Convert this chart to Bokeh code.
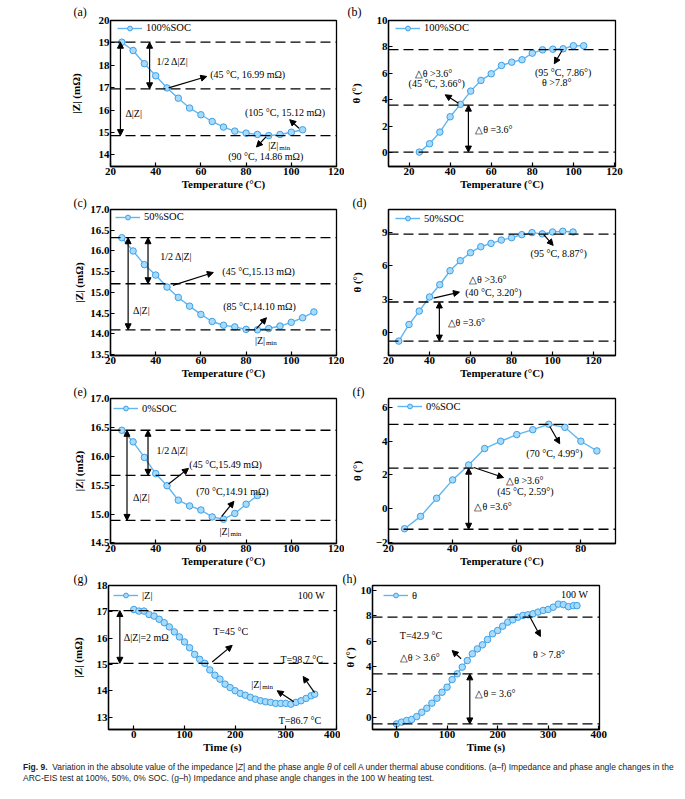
from bokeh.plotting import figure
from bokeh.models import (Range1d, FixedTicker, Span, Arrow, NormalHead, Label,
                          Legend, LegendItem, Div, NumeralTickFormatter)
from bokeh.layouts import row, column
from bokeh.embed import file_html
from bokeh.resources import INLINE

# ---------------- data ----------------
temp_100 = [25, 30, 35, 40, 45, 50, 55, 60, 65, 70, 75, 80, 85, 90, 95, 100, 105]
z_100 = [19.03, 18.66, 18.07, 17.53, 16.99, 16.53, 16.09, 15.79, 15.49, 15.24, 15.06,
         14.97, 14.91, 14.86, 14.91, 15.01, 15.12]
theta_100 = [0.05, 0.68, 1.56, 2.72, 3.66, 4.66, 5.47, 5.97, 6.60, 6.85, 7.03, 7.53,
             7.78, 7.83, 7.86, 8.09, 8.09]

temp_50 = [25, 30, 35, 40, 45, 50, 55, 60, 65, 70, 75, 80, 85, 90, 95, 100, 105, 110]
z_50 = [16.32, 16.00, 15.67, 15.42, 15.13, 14.88, 14.67, 14.47, 14.30, 14.21, 14.17,
        14.11, 14.10, 14.13, 14.19, 14.28, 14.39, 14.53]
theta_50 = [-0.78, 0.72, 1.93, 3.20, 4.31, 5.57, 6.48, 7.20, 7.74, 8.04, 8.34, 8.55,
            8.83, 9.01, 8.90, 9.07, 9.13, 9.07]

temp_0 = [25, 30, 35, 40, 45, 50, 55, 60, 65, 70, 75, 80, 85]
z_0 = [16.45, 16.25, 15.98, 15.70, 15.49, 15.24, 15.14, 15.07, 14.95, 14.91, 15.01,
       15.17, 15.32]
theta_0 = [-1.17, -0.44, 0.63, 1.71, 2.59, 3.56, 3.99, 4.38, 4.67, 4.99, 4.81, 3.99, 3.42]

time_s = [0, 10, 20, 30, 40, 50, 60, 70, 80, 90, 100, 110, 120, 130, 140, 150, 160, 170,
          180, 190, 200, 210, 220, 230, 240, 250, 260, 270, 280, 290, 300, 310, 320, 330,
          340, 350, 357]
z_heat = [17.09, 17.03, 17.03, 16.90, 16.84, 16.72, 16.59, 16.43, 16.24, 16.05, 15.86,
          15.64, 15.39, 15.20, 15.05, 14.80, 14.60, 14.45, 14.26, 14.13, 14.01, 13.91,
          13.84, 13.76, 13.69, 13.63, 13.59, 13.57, 13.53, 13.53, 13.53, 13.50, 13.57,
          13.63, 13.72, 13.82, 13.88]
theta_heat = [-0.53, -0.39, -0.26, -0.18, 0.05, 0.39, 0.71, 1.11, 1.50, 1.97, 2.37, 2.97,
              3.42, 3.95, 4.47, 5.00, 5.39, 5.71, 6.13, 6.58, 6.84, 7.18, 7.50, 7.68,
              7.89, 8.03, 8.08, 8.16, 8.29, 8.42, 8.50, 8.68, 8.92, 8.88, 8.72, 8.80, 8.80]

temp_ticks = [20, 40, 60, 80, 100, 120]
temp_ticks_f = [20, 40, 60, 80]
time_ticks = [0, 100, 200, 300, 400]

# reference levels (dashed lines)
lev_a = [19.03, 16.95, 14.86]
lev_b = [0.05, 3.6, 7.8]
lev_c = [16.32, 15.21, 14.10]
lev_d = [-0.78, 2.75, 8.87]
lev_e = [16.45, 15.67, 14.89]
lev_f = [-1.2, 2.4, 4.99]
lev_g = [17.05, 15.05]
lev_h = [-0.53, 3.42, 7.9]

# ---------------- annotations (positions in data units) ----------------
ANN = {
    "a": dict(
        darrows=[(24.4, 19.03, 24.4, 14.86), (37.3, 19.03, 37.3, 16.95)],
        arrows=[(45.7, 16.99, 62.6, 17.50), (103.4, 15.19, 99.3, 15.57),
                (88.7, 14.79, 84.6, 14.35)],
        labels=[(26.6, 15.83, "Δ|Z|", "left"), (40.3, 18.17, "1/2 Δ|Z|", "left"),
                (64.1, 17.57, "(45 °C, 16.99 mΩ)", "left"),
                (79.5, 15.91, "(105 °C, 15.12 mΩ)", "left"),
                (72.1, 13.93, "(90 °C, 14.86 mΩ)", "left")],
        zmin=(89.8, 14.42)),
    "b": dict(
        darrows=[(48.9, 0.05, 48.9, 3.6)],
        arrows=[(44.1, 3.75, 37.6, 4.38), (94.5, 7.73, 90.7, 6.73)],
        labels=[(52.2, 1.74, "△θ =3.6°", "left"), (31.9, 6.02, "△θ >3.6°", "center"),
                (33.5, 5.21, "(45 °C, 3.66°)", "center"),
                (95.0, 6.05, "(95 °C, 7.86°)", "center"),
                (91.9, 5.34, "θ >7.8°", "center")],
        zmin=None),
    "c": dict(
        darrows=[(27.8, 16.32, 27.8, 14.10), (36.6, 16.32, 36.6, 15.21)],
        arrows=[(47.6, 15.17, 65.5, 15.48), (84.6, 14.13, 89.0, 14.39)],
        labels=[(30.0, 14.57, "Δ|Z|", "left"), (42.0, 15.86, "1/2 Δ|Z|", "left"),
                (69.5, 15.51, "(45 °C,15.13 mΩ)", "left"),
                (69.9, 14.65, "(85 °C,14.10 mΩ)", "left")],
        zmin=(83.9, 13.85)),
    "d": dict(
        darrows=[(44.8, -0.78, 44.8, 2.75)],
        arrows=[(42.0, 3.10, 54.6, 3.64), (95.7, 8.83, 100.3, 7.86)],
        labels=[(48.8, 0.93, "△θ =3.6°", "left"), (59.3, 4.79, "△θ >3.6°", "left"),
                (57.4, 3.58, "(40 °C, 3.20°)", "left"),
                (89.3, 7.11, "(95 °C, 8.87°)", "left")],
        zmin=None),
    "e": dict(
        darrows=[(27.3, 16.45, 27.3, 14.89), (36.6, 16.45, 36.6, 15.67)],
        arrows=[(45.7, 15.52, 54.5, 15.79), (69.2, 14.96, 74.6, 15.22)],
        labels=[(30.0, 15.29, "Δ|Z|", "left"), (40.3, 16.10, "1/2 Δ|Z|", "left"),
                (54.9, 15.85, "(45 °C,15.49 mΩ)", "left"),
                (57.9, 15.39, "(70 °C,14.91 mΩ)", "left")],
        zmin=(68.2, 14.70)),
    "f": dict(
        darrows=[(45.0, -1.2, 45.0, 2.4)],
        arrows=[(46.6, 2.44, 55.9, 1.85), (70.3, 4.86, 73.4, 3.84)],
        labels=[(46.8, 0.14, "△θ =3.6°", "left"), (56.7, 1.70, "△θ >3.6°", "left"),
                (53.9, 1.05, "(45 °C, 2.59°)", "left"),
                (63.0, 3.26, "(70 °C, 4.99°)", "left")],
        zmin=None),
    "g": dict(
        darrows=[(-27.6, 17.05, -27.6, 15.05)],
        arrows=[(154.6, 15.10, 194.1, 15.73), (356.6, 13.94, 334.2, 14.55),
                (315.8, 13.59, 282.9, 14.01)],
        labels=[(-19.7, 16.02, "Δ|Z|=2 mΩ", "left"), (156.6, 16.27, "T=45 °C", "left"),
                (289.5, 15.20, "T=98.7 °C", "left"), (286.2, 12.87, "T=86.7 °C", "left"),
                (323.7, 17.62, "100 W", "left")],
        zmin=(231.6, 14.26)),
    "h": dict(
        darrows=[(145.0, -0.53, 145.0, 3.42)],
        arrows=[(127.8, 4.61, 110.0, 5.26), (261.6, 8.08, 284.7, 6.37)],
        labels=[(156.2, 1.84, "△θ = 3.6°", "left"), (6.6, 6.45, "T=42.9 °C", "left"),
                (6.6, 4.74, "△θ > 3.6°", "left"), (270.2, 4.92, "θ > 7.8°", "left"),
                (325.5, 9.66, "100 W", "left")],
        zmin=None),
}

SERIF = "'Liberation Serif', 'Times New Roman', serif"
LINE_C = "#5fb6f2"
FILL_C = "#a6dbfb"
EDGE_C = "#3f9fe6"


def head():
    return NormalHead(size=6, fill_color="black", line_color="black", line_width=1)


def make_panel(key, xs, ys, legend_label, xr, yr, xticks, yticks, xlabel, ylabel,
               ystand, leg_xy, borders, frame_w, frame_h, levels, tag, yfmt=None):
    bl, br, bt, bb = borders
    p = figure(frame_width=frame_w, frame_height=frame_h, x_range=Range1d(*xr),
               y_range=Range1d(*yr), output_backend="svg", toolbar_location=None,
               min_border_left=bl, min_border_right=br, min_border_top=bt,
               min_border_bottom=bb, background_fill_color="white",
               border_fill_color="white")
    p.outline_line_color = "black"
    p.outline_line_width = 1.3
    p.grid.visible = False
    for ax in (p.xaxis[0], p.yaxis[0]):
        ax.axis_line_color = "black"
        ax.axis_line_width = 1.3
        ax.major_tick_in = 4
        ax.major_tick_out = 0
        ax.minor_tick_in = 0
        ax.minor_tick_out = 0
        ax.major_tick_line_color = "black"
        ax.major_tick_line_width = 1.2
        ax.major_label_text_font = SERIF
        ax.major_label_text_font_style = "bold"
        ax.major_label_text_font_size = "11px"
        ax.major_label_text_color = "black"
        ax.axis_label_text_font = SERIF
        ax.axis_label_text_font_style = "bold"
        ax.axis_label_text_font_size = "11px"
        ax.axis_label_text_color = "black"
        ax.major_label_standoff = 1
    p.xaxis[0].ticker = FixedTicker(ticks=xticks)
    p.yaxis[0].ticker = FixedTicker(ticks=yticks)
    if yfmt:
        p.yaxis[0].formatter = NumeralTickFormatter(format=yfmt)
    p.xaxis[0].axis_label = xlabel
    p.xaxis[0].axis_label_standoff = 0
    p.yaxis[0].axis_label = ylabel
    p.yaxis[0].axis_label_standoff = ystand

    # panel tag as the figure title, shifted left of the frame
    ttext, toff, tstand = tag
    p.title.text = ttext
    p.title.align = "left"
    p.title.offset = toff
    p.title.standoff = tstand
    p.title.text_font = SERIF
    p.title.text_font_style = "normal"
    p.title.text_font_size = "12px"
    p.title.text_color = "black"

    for v in levels:
        p.add_layout(Span(location=v, dimension="width", line_color="black",
                          line_width=1.3, line_dash="10 5"))

    lr = p.line(xs, ys, line_color=LINE_C, line_width=1.4)
    sr = p.scatter(xs, ys, size=6.5, fill_color=FILL_C, line_color=EDGE_C,
                   line_width=1)

    ann = ANN[key]
    for (x0, y0, x1, y1) in ann["darrows"]:
        p.add_layout(Arrow(start=head(), end=head(), x_start=x0, y_start=y0,
                           x_end=x1, y_end=y1, line_color="black", line_width=1.2))
    for (x0, y0, x1, y1) in ann["arrows"]:
        p.add_layout(Arrow(end=head(), x_start=x0, y_start=y0, x_end=x1, y_end=y1,
                           line_color="black", line_width=1.2))
    for (x, y, t, al) in ann["labels"]:
        p.add_layout(Label(x=x, y=y, text=t, text_font=SERIF, text_font_size="10px",
                           text_align=al, text_baseline="middle", text_color="black"))
    if ann["zmin"]:
        zx, zy = ann["zmin"]
        p.add_layout(Label(x=zx, y=zy, text="|Z|", text_font=SERIF,
                           text_font_size="10px", text_baseline="middle",
                           text_color="black"))
        p.add_layout(Label(x=zx, y=zy, text="min", text_font=SERIF,
                           text_font_size="7px", text_baseline="middle",
                           x_offset=11, y_offset=-3, text_color="black"))

    vx, dy = leg_xy
    legend = Legend(items=[LegendItem(label=legend_label, renderers=[lr, sr])],
                    location=(vx, frame_h - dy - 6), border_line_alpha=0,
                    background_fill_alpha=0, padding=0, margin=0, glyph_width=25,
                    glyph_height=12, label_height=12, label_standoff=4, spacing=0,
                    label_text_font=SERIF, label_text_font_size="10.5px",
                    label_text_color="black")
    p.add_layout(legend)
    return p


TL = "Temperature (°C)"
ZL = "|Z| (mΩ)"
TH = "θ (°)"

# borders: (left, right, top, bottom)
L13, R13 = (110, 8), (44, 70)
pa = make_panel("a", temp_100, z_100, "100%SOC", (20, 120), (13.48, 20), temp_ticks,
                [14, 15, 16, 17, 18, 19, 20], TL, ZL, 14, (7, 7.7), (*L13, 20, 26), 226,
                146, lev_a, ("(a)", -37, 3))
pb = make_panel("b", temp_100, theta_100, "100%SOC", (10, 120.5), (-1.04, 10), temp_ticks,
                [0, 2, 4, 6, 8, 10], TL, TH, 12, (7, 7.7), (*R13, 20, 26), 227, 146,
                lev_b, ("(b)", -41, 3))
pc = make_panel("c", temp_50, z_50, "50%SOC", (20, 120), (13.48, 17.0), temp_ticks,
                [13.5, 14.0, 14.5, 15.0, 15.5, 16.0, 16.5, 17.0], TL, ZL, 2, (5, 7.7),
                (*L13, 17, 26), 226, 146, lev_c, ("(c)", -37, 0), yfmt="0.0")
pd_ = make_panel("d", temp_50, theta_50, "50%SOC", (20, 130.7), (-2.08, 11.1), temp_ticks,
                 [0, 3, 6, 9], TL, TH, 16, (7, 9.3), (*R13, 17, 26), 227, 146, lev_d,
                 ("(d)", -36, 0))
pe = make_panel("e", temp_0, z_0, "0%SOC", (20, 120), (14.49, 17.0), temp_ticks,
                [14.5, 15.0, 15.5, 16.0, 16.5, 17.0], TL, ZL, 2, (3, 10), (*L13, 17, 26),
                226, 145, lev_e, ("(e)", -37, 0), yfmt="0.0")
pf = make_panel("f", temp_0, theta_0, "0%SOC", (20, 90.8), (-2.04, 6.51), temp_ticks_f,
                [-2, 0, 2, 4, 6], TL, TH, 10, (9, 8), (*R13, 17, 26), 227, 145, lev_f,
                ("(f)", -36, 0))
pg = make_panel("g", time_s, z_heat, "|Z|", (-50, 400), (12.54, 18.0), time_ticks,
                [13, 14, 15, 16, 17, 18], "Time (s)", ZL, 10, (5, 10), (108, 4, 16, 26),
                228, 144, lev_g, ("(g)", -35, 0))
ph = make_panel("h", time_s, theta_heat, "θ", (-47.5, 401.5), (-0.97, 10.39), time_ticks,
                [0, 2, 4, 6, 8, 10], "Time (s)", TH, 2, (11, 10), (32, 86, 16, 26), 227,
                144, lev_h, ("(h)", -30, 0))

caption = Div(text=(
    '<div style="font-family:\'Liberation Sans\',sans-serif;font-size:8.5px;'
    'line-height:11px;white-space:nowrap;color:#222;padding-left:23px;padding-top:7px">'
    '<b>Fig. 9.</b>&nbsp; Variation in the absolute value of the impedance |<i>Z</i>| and '
    'the phase angle <i>θ</i> of cell A under thermal abuse conditions. (a–f) Impedance '
    'and phase angle changes in the<br>ARC-EIS test at 100%, 50%, 0% SOC. (g–h) Impedance '
    'and phase angle changes in the 100 W heating test.</div>'),
    width=685, height=34, margin=(0, 0, 0, 0))

layout = column(row(pa, pb), row(pc, pd_), row(pe, pf), row(pg, ph), caption)

with open("out.html", "w") as f:
    f.write(file_html(layout, INLINE))
